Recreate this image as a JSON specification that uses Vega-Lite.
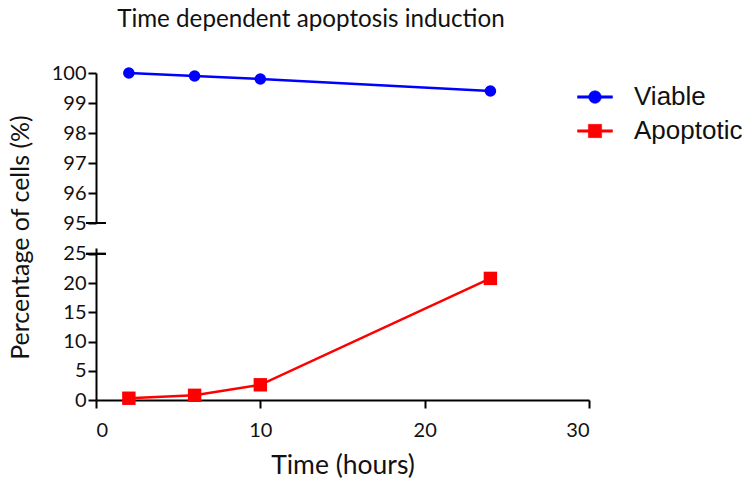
{
  "$schema": "https://vega.github.io/schema/vega-lite/v6.json",
  "background": "white",
  "padding": {"left": 8, "top": 7, "right": 5, "bottom": 5},
  "title": {"text": "Time dependent apoptosis induction", "anchor": "start", "dx": 109, "fontSize": 24.2, "font": "Lato", "fontWeight": "normal", "color": "#111", "offset": 31},
  "data": {"values": [
    {"time": 2, "series": "Viable", "value": 100},
    {"time": 6, "series": "Viable", "value": 99.9},
    {"time": 10, "series": "Viable", "value": 99.8},
    {"time": 24, "series": "Viable", "value": 99.4},
    {"time": 2, "series": "Apoptotic", "value": 0.3},
    {"time": 6, "series": "Apoptotic", "value": 0.8},
    {"time": 10, "series": "Apoptotic", "value": 2.6},
    {"time": 24, "series": "Apoptotic", "value": 20.8}
  ]},
  "config": {
    "view": {"stroke": null},
    "axis": {"grid": false, "domainColor": "black", "domainWidth": 2, "tickColor": "black", "tickWidth": 2, "tickSize": 8, "labelFontSize": 20, "labelFont": "Lato", "labelColor": "#111", "titleFont": "Lato", "titleFontSize": 25, "titleFontWeight": "normal", "titleColor": "#111", "labelPadding": 2, "labelOverlap": false, "tickCount": 10}
  },
  "bounds": "flush",
  "spacing": 25,
  "resolve": {"scale": {"color": "shared"}},
  "vconcat": [
    {
      "width": 493, "height": 150,
      "transform": [{"filter": "datum.series === 'Viable'"}],
      "layer": [
        {"mark": {"type": "line", "strokeWidth": 2.5, "clip": false},
         "encoding": {
           "x": {"field": "time", "type": "quantitative", "scale": {"domain": [0, 30]}, "axis": null},
           "y": {"field": "value", "type": "quantitative", "scale": {"domain": [95, 100], "zero": false}, "axis": {"values": [95, 96, 97, 98, 99, 100], "format": "d", "tickCount": 10, "title": "Percentage of cells (%)", "titleY": 164, "titlePadding": 18}},
           "color": {"field": "series", "type": "nominal", "scale": {"domain": ["Viable", "Apoptotic"], "range": ["#0000FF", "#FF0000"]},
             "legend": {"title": null, "orient": "right", "offset": -19, "padding": 6, "symbolSize": 1225, "labelFontSize": 26, "labelFont": "Liberation Sans", "labelColor": "#111", "labelOffset": 21, "rowPadding": 3, "symbolStrokeWidth": 0.5, "symbolOpacity": 1,
               "symbolType": {"expr": "datum.value === 'Viable' ? 'M-1,-0.07L1,-0.07L1,0.07L-1,0.07ZM0.36,0A0.36,0.36,0,1,1,-0.36,0A0.36,0.36,0,1,1,0.36,0Z' : 'M-1,-0.07L1,-0.07L1,0.07L-1,0.07ZM-0.38,-0.38L0.38,-0.38L0.38,0.38L-0.38,0.38Z'"}}}
         }},
        {"mark": {"type": "circle", "size": 135, "opacity": 1, "clip": false},
         "encoding": {
           "x": {"field": "time", "type": "quantitative"},
           "y": {"field": "value", "type": "quantitative"},
           "color": {"field": "series", "type": "nominal"}
         }},
        {"mark": {"type": "tick", "orient": "horizontal", "size": 20, "thickness": 2, "color": "black", "clip": false},
         "encoding": {"x": {"datum": 0, "type": "quantitative"}, "y": {"datum": 95, "type": "quantitative"}}}
      ]
    },
    {
      "width": 493, "height": 152,
      "transform": [{"filter": "datum.series === 'Apoptotic'"}],
      "layer": [
        {"mark": {"type": "line", "strokeWidth": 2.5, "clip": false},
         "encoding": {
           "x": {"field": "time", "type": "quantitative", "scale": {"domain": [0, 30]}, "axis": {"values": [0, 10, 20, 30], "title": "Time (hours)", "titlePadding": 12, "labelPadding": 12, "titleFontSize": 26.5}},
           "y": {"field": "value", "type": "quantitative", "scale": {"domain": [0, 25]}, "axis": {"values": [0, 5, 10, 15, 20, 25], "format": "d", "tickCount": 10, "title": null}},
           "color": {"field": "series", "type": "nominal"}
         }},
        {"mark": {"type": "square", "size": 180, "opacity": 1, "clip": false},
         "encoding": {
           "x": {"field": "time", "type": "quantitative"},
           "y": {"field": "value", "type": "quantitative"},
           "color": {"field": "series", "type": "nominal"}
         }},
        {"mark": {"type": "tick", "orient": "horizontal", "size": 20, "thickness": 2, "color": "black", "clip": false},
         "encoding": {"x": {"datum": 0, "type": "quantitative"}, "y": {"datum": 25, "type": "quantitative"}}}
      ]
    }
  ]
}
